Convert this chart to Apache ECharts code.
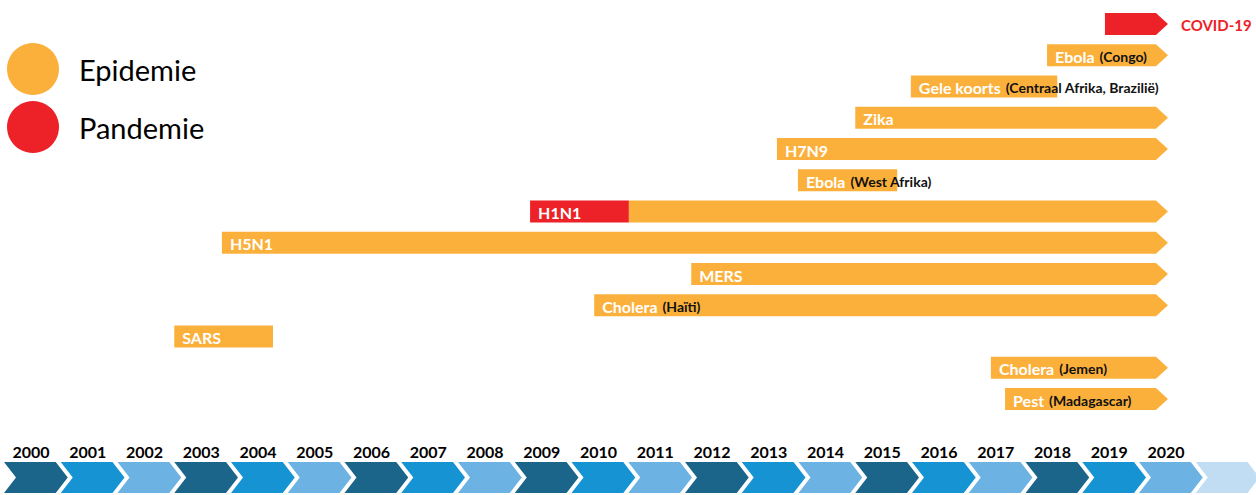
<!DOCTYPE html>
<html><head><meta charset="utf-8">
<script src="https://cdn.jsdelivr.net/npm/echarts@6/dist/echarts.min.js"></script>
<style>html,body{margin:0;padding:0;background:#fff}#c{width:1256px;height:495px}</style>
</head><body><div id="c"></div>
<script>
// ---- data ----
const timelineYears = [2000,2001,2002,2003,2004,2005,2006,2007,2008,2009,2010,2011,2012,2013,2014,2015,2016,2017,2018,2019,2020,2021];
const yearLabels = ['2000','2001','2002','2003','2004','2005','2006','2007','2008','2009','2010','2011','2012','2013','2014','2015','2016','2017','2018','2019','2020',''];
const rowLabels = ['COVID-19','Ebola','Gele koorts','Zika','H7N9','Ebola','H1N1','H5N1','MERS','Cholera','SARS','Cholera','Pest'];
const rowNotes = ['','(Congo)','(Centraal Afrika, Brazilië)','','','(West Afrika)','','','','(Haïti)','','(Jemen)','(Madagascar)'];
const epidemicStart = [null,2018.38,2015.98,2015.00,2013.62,2013.99,2011.01,2003.84,2012.11,2010.40,2003.00,2017.39,2017.64];
const epidemicEnd   = [null,2020.51,2018.56,2020.51,2020.51,2015.74,2020.51,2020.51,2020.51,2020.51,2004.74,2020.51,2020.51];
const epidemicOngoing = [0,1,0,1,1,0,1,1,1,1,0,1,1];
const pandemicStart = [2019.40,null,null,null,null,null,2009.27,null,null,null,null,null,null];
const pandemicEnd   = [2020.51,null,null,null,null,null,2011.01,null,null,null,null,null,null];
const pandemicOngoing = [1,0,0,0,0,0,0,0,0,0,0,0,0];

// ---- styles ----
const ORANGE = '#FBB03B', RED = '#ED2128';
const FONT = 'Lato';
const CHEVRON = ['#1B658A', '#1693D2', '#6CB3E3'], CHEVRON_LAST = '#C0DDF3';

// build data
const epiData = [], panData = [];
rowLabels.forEach((name, r) => {
  const hasPan = pandemicStart[r] != null;
  if (epidemicStart[r] != null) epiData.push([epidemicStart[r], r, epidemicEnd[r], epidemicOngoing[r], hasPan ? 0 : 1]);
  if (hasPan) panData.push([pandemicStart[r], r, pandemicEnd[r], pandemicOngoing[r], epidemicStart[r] != null ? 1 : 2]);
});

function barRender(color) {
  return function (params, api) {
    const s = api.value(0), r = api.value(1), e = api.value(2), arrow = api.value(3), lbl = api.value(4);
    const p0 = api.coord([s, r]), p1 = api.coord([e, r]);
    const h = api.size([0, 1])[1] * 0.7;
    const yc = p0[1], y0 = yc - h / 2, y1 = yc + h / 2;
    const children = [];
    if (arrow) {
      const xb = p1[0] - 12;
      children.push({ type: 'polygon', shape: { points: [[p0[0], y0], [xb, y0], [p1[0], yc], [xb, y1], [p0[0], y1]] }, style: { fill: color } });
    } else {
      children.push({ type: 'rect', shape: { x: p0[0], y: y0, width: p1[0] - p0[0], height: h }, style: { fill: color } });
    }
    if (lbl === 1) {
      const note = rowNotes[r];
      children.push({ type: 'text', x: p0[0] + 8, y: yc + 1, style: {
        text: '{a|' + rowLabels[r] + '}' + (note ? '{b|' + note + '}' : ''),
        verticalAlign: 'middle', align: 'left',
        rich: {
          a: { fontFamily: FONT, fontWeight: 'bold', fontSize: 16, fill: '#fff', padding: [0, 5, 0, 0] },
          b: { fontFamily: FONT, fontWeight: 'bold', fontSize: 14, fill: '#111' }
        }
      } });
    } else if (lbl === 2) {
      children.push({ type: 'text', x: p1[0] + 13, y: yc + 1, style: {
        text: rowLabels[r], verticalAlign: 'middle', align: 'left',
        fontFamily: FONT, fontWeight: 'bold', fontSize: 15, fill: color
      } });
    }
    return { type: 'group', children };
  };
}

const chart = echarts.init(document.getElementById('c'), null, { renderer: 'svg' });
chart.setOption({
  animation: false,
  backgroundColor: '#fff',
  legend: {
    data: ['Epidemie', 'Pandemie'], icon: 'circle', orient: 'vertical',
    left: 2, top: 38, itemWidth: 52, itemHeight: 52, itemGap: 6, selectedMode: false,
    textStyle: { fontFamily: FONT, fontSize: 29, color: '#000', padding: [0, 0, 0, 15] }
  },
  grid: [
    { left: 4, width: 1248.5, top: 8.4, height: 406.25 },
    { left: 4, width: 1248.5, top: 462, height: 31 }
  ],
  xAxis: [
    { type: 'value', gridIndex: 0, min: 2000, max: 2022, show: false },
    { type: 'value', gridIndex: 1, min: 2000, max: 2022, show: false }
  ],
  yAxis: [
    { type: 'value', gridIndex: 0, min: -0.5, max: 12.5, inverse: true, show: false },
    { type: 'value', gridIndex: 1, min: 0, max: 1, show: false }
  ],
  series: [
    {
      type: 'custom', name: 'Timeline', xAxisIndex: 1, yAxisIndex: 1, silent: true,
      data: timelineYears.map((y, i) => [y, i]),
      renderItem: function (params, api) {
        const y = api.value(0), i = api.value(1);
        const x0 = api.coord([y, 0])[0];
        const w = api.size([1, 0])[0];
        const top = api.coord([y, 1])[1], bot = api.coord([y, 0])[1], mid = (top + bot) / 2;
        const fill = i === timelineYears.length - 1 ? CHEVRON_LAST : CHEVRON[i % 3];
        const children = [{ type: 'polygon', shape: { points: [[x0, top], [x0 + w - 5, top], [x0 + w + 7, mid], [x0 + w - 5, bot], [x0, bot], [x0 + 12, mid]] }, style: { fill } }];
        if (yearLabels[i]) children.push({ type: 'text', x: x0 + 27, y: top - 11, style: { text: yearLabels[i], align: 'center', verticalAlign: 'middle', fontFamily: FONT, fontWeight: 'bold', fontSize: 16, fill: '#000' } });
        return { type: 'group', children };
      }
    },
    { type: 'custom', name: 'Epidemie', xAxisIndex: 0, yAxisIndex: 0, itemStyle: { color: ORANGE }, data: epiData, renderItem: barRender(ORANGE) },
    { type: 'custom', name: 'Pandemie', xAxisIndex: 0, yAxisIndex: 0, itemStyle: { color: RED }, data: panData, renderItem: barRender(RED) }
  ]
});
</script></body></html>
